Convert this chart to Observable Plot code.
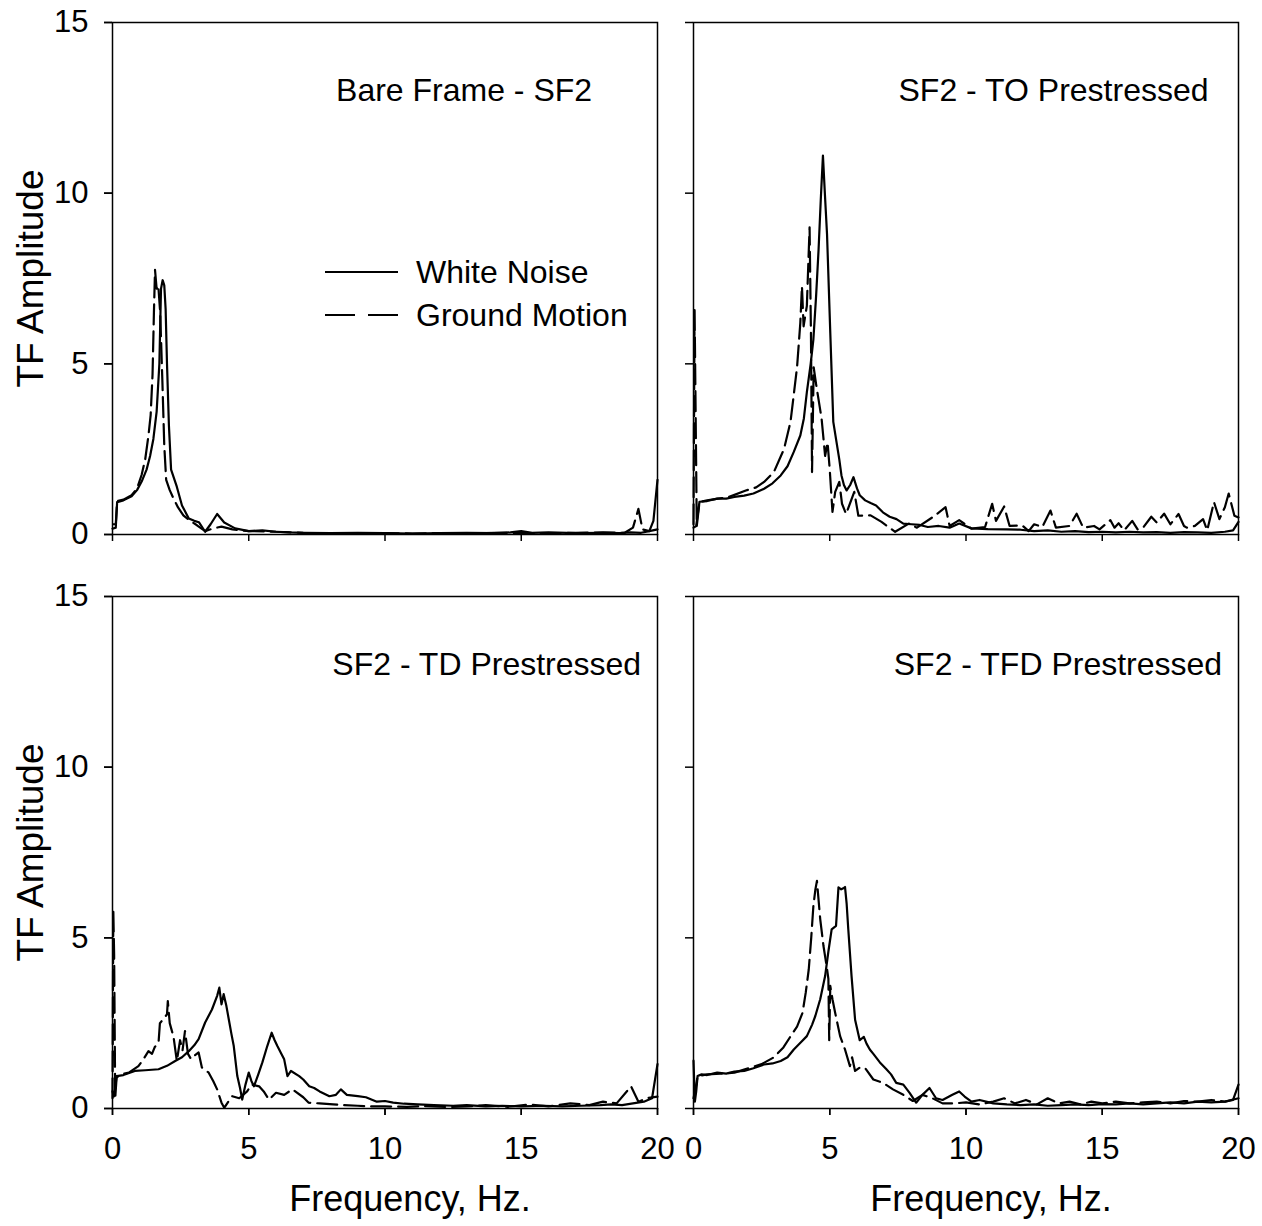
<!DOCTYPE html>
<html><head><meta charset="utf-8">
<script src="https://cdn.jsdelivr.net/npm/d3@7"></script>
<script src="https://cdn.jsdelivr.net/npm/@observablehq/plot@0.6"></script>
<style>
body{margin:0;background:#fff;}
#wrap{position:relative;width:1262px;height:1226px;font-family:"Liberation Sans",Arial,sans-serif;}
#legend{position:absolute;left:320px;top:250px;}
</style></head><body><div id="wrap"></div>
<script>
// ---------- data ----------
const panelNames = ["Bare Frame - SF2", "SF2 - TO Prestressed", "SF2 - TD Prestressed", "SF2 - TFD Prestressed"];
const seriesNames = ["White Noise", "Ground Motion"];
const xTicks = [0, 5, 10, 15, 20];
const yTicks = [0, 5, 10, 15];
const axisLabels = {x: "Frequency, Hz.", y: "TF Amplitude"};

// Bare Frame - SF2
const bareWN_f = [0, 0.12, 0.17, 0.4, 0.7, 0.9, 1.07, 1.25, 1.38, 1.5, 1.62, 1.72, 1.78, 1.84, 1.9, 1.95, 2.0, 2.07, 2.15, 2.36, 2.55, 2.8, 3.0, 3.17, 3.4, 3.6, 3.84, 4.1, 4.5, 5.0, 5.5, 6, 6.5, 7, 8, 9, 10, 11, 12, 13, 14, 14.6, 15, 15.4, 16, 17, 18, 18.6, 19, 19.4, 19.7, 19.85, 20];
const bareWN_a = [0.17, 0.2, 0.95, 1.0, 1.12, 1.3, 1.55, 1.9, 2.3, 2.8, 3.6, 5.0, 7.2, 7.45, 7.3, 6.6, 5.0, 3.2, 1.9, 1.4, 0.85, 0.47, 0.4, 0.36, 0.08, 0.3, 0.6, 0.35, 0.18, 0.1, 0.12, 0.08, 0.06, 0.05, 0.04, 0.05, 0.04, 0.03, 0.04, 0.05, 0.04, 0.06, 0.1, 0.05, 0.06, 0.04, 0.05, 0.04, 0.06, 0.05, 0.1, 0.4, 1.6];
const bareGM_f = [0.02, 0.12, 0.17, 0.4, 0.7, 0.9, 1.07, 1.2, 1.32, 1.4, 1.47, 1.52, 1.56, 1.62, 1.68, 1.75, 1.83, 1.9, 1.97, 2.1, 2.24, 2.4, 2.6, 2.85, 3.1, 3.4, 3.7, 4.0, 4.4, 5, 6, 7, 8, 9, 10, 11, 12, 13, 14, 15, 16, 17, 18, 18.8, 19.1, 19.3, 19.45, 19.7, 20];
const bareGM_a = [0.3, 0.3, 0.98, 1.02, 1.15, 1.35, 1.75, 2.2, 2.9, 3.5, 4.7, 6.5, 7.75, 7.2, 7.3, 6.5, 4.5, 2.6, 1.6, 1.3, 1.05, 0.8, 0.56, 0.4, 0.27, 0.1, 0.18, 0.23, 0.15, 0.1, 0.08, 0.05, 0.04, 0.04, 0.04, 0.03, 0.04, 0.03, 0.05, 0.04, 0.04, 0.05, 0.06, 0.05, 0.2, 0.75, 0.15, 0.1, 0.15];

// SF2 - TO Prestressed
const toWN_f = [0, 0.1, 0.22, 0.5, 0.87, 1.2, 1.5, 1.86, 2.2, 2.59, 2.9, 3.2, 3.45, 3.68, 3.92, 4.05, 4.16, 4.3, 4.4, 4.5, 4.59, 4.67, 4.75, 4.82, 4.9, 5.02, 5.13, 5.25, 5.35, 5.43, 5.52, 5.62, 5.75, 5.87, 6.0, 6.1, 6.3, 6.5, 6.7, 6.95, 7.2, 7.45, 7.7, 8.0, 8.3, 8.6, 9.0, 9.4, 9.75, 10.2, 10.8, 11.5, 12, 12.5, 13, 13.5, 14, 14.5, 15, 15.5, 16, 16.5, 17, 17.5, 18, 18.5, 19, 19.5, 19.8, 20];
const toWN_a = [0.2, 0.25, 0.96, 0.98, 1.05, 1.05, 1.1, 1.14, 1.2, 1.34, 1.5, 1.73, 2.0, 2.42, 2.9, 3.4, 4.17, 5.0, 5.72, 7.0, 8.35, 9.8, 11.1, 10.0, 8.8, 5.9, 3.3, 2.7, 2.2, 1.73, 1.45, 1.29, 1.45, 1.68, 1.35, 1.15, 1.0, 0.92, 0.85, 0.65, 0.52, 0.45, 0.32, 0.3, 0.28, 0.22, 0.25, 0.2, 0.32, 0.18, 0.16, 0.15, 0.14, 0.1, 0.12, 0.08, 0.1, 0.07, 0.08, 0.06, 0.08, 0.06, 0.07, 0.05, 0.07, 0.06, 0.05, 0.08, 0.12, 0.37];
const toGM_f = [0, 0.04, 0.12, 0.22, 0.5, 0.9, 1.3, 1.92, 2.3, 2.59, 2.95, 3.32, 3.56, 3.8, 3.92, 3.98, 4.04, 4.16, 4.26, 4.31, 4.35, 4.41, 4.5, 4.6, 4.7, 4.83, 4.92, 5.0, 5.1, 5.2, 5.35, 5.45, 5.6, 5.9, 6.05, 6.5, 6.9, 7.4, 7.9, 8.2, 8.8, 9.25, 9.4, 9.75, 10.2, 10.7, 10.96, 11.1, 11.4, 11.6, 12.06, 12.3, 12.5, 12.8, 13.1, 13.3, 13.8, 14.06, 14.3, 14.7, 14.9, 15.3, 15.45, 15.6, 15.8, 16.1, 16.3, 16.5, 16.8, 17.0, 17.27, 17.5, 17.8, 18.0, 18.1, 18.4, 18.7, 18.85, 19.1, 19.3, 19.5, 19.64, 19.85, 20];
const toGM_a = [0.3, 6.6, 0.25, 0.95, 1.0, 1.05, 1.1, 1.29, 1.38, 1.54, 1.83, 2.5, 3.3, 4.9, 6.2, 7.27, 6.1, 6.7, 9.0, 5.9, 1.83, 4.9, 4.4, 3.9, 3.4, 2.3, 2.7, 1.9, 0.66, 1.25, 1.54, 0.9, 0.6, 1.25, 0.55, 0.56, 0.37, 0.08, 0.32, 0.2, 0.52, 0.8, 0.25, 0.42, 0.17, 0.22, 0.9, 0.4, 0.82, 0.25, 0.27, 0.1, 0.3, 0.22, 0.7, 0.2, 0.25, 0.61, 0.2, 0.25, 0.15, 0.42, 0.2, 0.33, 0.12, 0.4, 0.15, 0.2, 0.52, 0.35, 0.61, 0.3, 0.6, 0.25, 0.2, 0.25, 0.45, 0.12, 0.95, 0.45, 0.8, 1.2, 0.55, 0.5];

// SF2 - TD Prestressed
const tdWN_f = [0, 0.05, 0.1, 0.15, 0.4, 0.82, 1.2, 1.69, 2.0, 2.3, 2.55, 2.8, 3.0, 3.16, 3.4, 3.65, 3.84, 3.92, 4.0, 4.08, 4.18, 4.27, 4.36, 4.45, 4.58, 4.68, 4.76, 4.88, 5.0, 5.1, 5.19, 5.35, 5.5, 5.68, 5.84, 5.95, 6.05, 6.2, 6.3, 6.42, 6.55, 6.85, 7.0, 7.22, 7.4, 7.6, 7.96, 8.2, 8.38, 8.6, 9.0, 9.3, 9.7, 10.0, 10.3, 10.7, 11.2, 11.8, 12.5, 13.0, 13.7, 14.3, 15.0, 15.8, 16.5, 17.2, 17.9, 18.3, 18.7, 19.1, 19.5, 19.8, 20];
const tdWN_a = [0.5, 0.35, 0.6, 0.95, 0.98, 1.1, 1.12, 1.15, 1.25, 1.39, 1.5, 1.68, 1.85, 2.03, 2.52, 2.9, 3.3, 3.54, 3.05, 3.35, 3.0, 2.6, 2.2, 1.83, 0.95, 0.6, 0.26, 0.7, 1.05, 0.8, 0.65, 1.0, 1.35, 1.83, 2.22, 2.0, 1.83, 1.6, 1.44, 0.95, 1.1, 0.95, 0.85, 0.65, 0.6, 0.5, 0.36, 0.4, 0.56, 0.4, 0.36, 0.33, 0.2, 0.22, 0.17, 0.14, 0.12, 0.1, 0.08, 0.1, 0.06, 0.08, 0.06, 0.08, 0.06, 0.08, 0.1, 0.12, 0.1, 0.15, 0.2, 0.3, 1.3];
const tdGM_f = [0, 0.03, 0.06, 0.1, 0.15, 0.3, 0.6, 0.95, 1.1, 1.32, 1.45, 1.55, 1.69, 1.74, 1.85, 2.0, 2.03, 2.1, 2.24, 2.36, 2.48, 2.57, 2.66, 2.77, 2.88, 3.0, 3.16, 3.28, 3.53, 3.7, 3.84, 4.0, 4.1, 4.25, 4.39, 4.65, 4.94, 5.1, 5.38, 5.55, 5.74, 6.0, 6.3, 6.6, 7.0, 7.2, 7.6, 8.1, 8.5, 9.0, 9.5, 10, 10.8, 11.5, 12.3, 13.0, 13.7, 14.5, 15.3, 16.0, 16.8, 17.5, 18.0, 18.5, 19.03, 19.3, 19.6, 20];
const tdGM_a = [0.3, 5.8, 4.5, 0.3, 0.9, 1.0, 1.05, 1.24, 1.4, 1.68, 1.6, 1.8, 1.93, 2.5, 2.6, 2.76, 3.15, 2.5, 2.1, 1.39, 2.0, 1.7, 2.27, 1.6, 1.45, 1.55, 1.64, 1.2, 1.05, 0.8, 0.56, 0.17, 0.02, 0.2, 0.36, 0.3, 0.5, 0.7, 0.65, 0.5, 0.26, 0.46, 0.4, 0.56, 0.33, 0.17, 0.15, 0.12, 0.1, 0.08, 0.06, 0.06, 0.05, 0.07, 0.04, 0.06, 0.1, 0.05, 0.12, 0.06, 0.15, 0.1, 0.2, 0.15, 0.65, 0.2, 0.3, 0.35];

// SF2 - TFD Prestressed
const tfdWN_f = [0, 0.05, 0.1, 0.15, 0.3, 0.5, 0.87, 1.2, 1.5, 1.86, 2.2, 2.59, 2.9, 3.2, 3.45, 3.68, 3.95, 4.16, 4.35, 4.47, 4.65, 4.83, 4.95, 5.07, 5.23, 5.32, 5.42, 5.5, 5.56, 5.62, 5.68, 5.8, 5.93, 6.1, 6.25, 6.35, 6.47, 6.6, 6.84, 7.08, 7.25, 7.44, 7.7, 7.93, 8.17, 8.4, 8.66, 8.9, 9.14, 9.5, 9.75, 9.95, 10.2, 10.5, 11, 11.5, 12, 12.5, 13, 13.5, 14, 14.5, 15, 15.5, 16, 16.5, 17, 17.5, 18, 18.5, 19, 19.5, 19.8, 20];
const tfdWN_a = [1.4, 0.2, 0.5, 0.95, 1.0, 0.98, 1.05, 1.02, 1.08, 1.1, 1.18, 1.29, 1.32, 1.39, 1.5, 1.73, 1.95, 2.12, 2.45, 2.71, 3.2, 3.88, 4.6, 5.25, 5.35, 6.48, 6.42, 6.45, 6.49, 6.0, 5.25, 3.88, 2.6, 2.0, 2.1, 1.9, 1.73, 1.6, 1.35, 1.15, 1.0, 0.75, 0.7, 0.46, 0.17, 0.4, 0.6, 0.3, 0.25, 0.4, 0.5, 0.35, 0.2, 0.25, 0.15, 0.12, 0.1, 0.12, 0.08, 0.1, 0.12, 0.1, 0.13, 0.12, 0.15, 0.12, 0.15, 0.18, 0.15, 0.2, 0.18, 0.2, 0.25, 0.7];
const tfdGM_f = [0, 0.08, 0.15, 0.5, 1.0, 1.5, 2.1, 2.5, 2.95, 3.3, 3.55, 3.8, 4.0, 4.12, 4.23, 4.32, 4.4, 4.47, 4.53, 4.58, 4.65, 4.77, 4.88, 4.95, 4.98, 5.02, 5.1, 5.2, 5.38, 5.56, 5.74, 5.82, 5.93, 6.1, 6.29, 6.6, 6.96, 7.32, 7.7, 8.05, 8.4, 8.77, 9.14, 9.6, 10, 10.5, 11, 11.4, 11.8, 12.2, 12.6, 13, 13.4, 13.8, 14.2, 14.6, 15, 15.5, 16, 16.5, 17, 17.5, 18, 18.5, 19, 19.5, 20];
const tfdGM_a = [0.3, 0.6, 0.95, 1.0, 1.02, 1.05, 1.2, 1.3, 1.5, 1.79, 2.1, 2.4, 2.8, 3.4, 4.08, 5.0, 5.94, 6.4, 6.67, 6.2, 5.55, 4.76, 4.2, 3.8, 2.0, 3.59, 3.2, 2.8, 2.12, 1.73, 1.24, 1.5, 1.1, 1.2, 1.19, 0.85, 0.75, 0.56, 0.4, 0.22, 0.4, 0.3, 0.15, 0.15, 0.18, 0.12, 0.2, 0.3, 0.15, 0.25, 0.12, 0.3, 0.15, 0.2, 0.12, 0.2, 0.15, 0.2, 0.15, 0.18, 0.2, 0.15, 0.22, 0.2, 0.25, 0.2, 0.3];

// ---------- layout (not data) ----------
const grid = [{col: "L", row: "T"}, {col: "R", row: "T"}, {col: "L", row: "B"}, {col: "R", row: "B"}];
const titleAnchor = [{x: 17.6, y: 13}, {x: 18.9, y: 13}, {x: 19.4, y: 13}, {x: 19.4, y: 13}];
const FONT = "Liberation Sans, Arial, Helvetica, sans-serif";

// ---------- build table ----------
const seriesArrays = [
  [[bareWN_f, bareWN_a], [bareGM_f, bareGM_a]],
  [[toWN_f, toWN_a], [toGM_f, toGM_a]],
  [[tdWN_f, tdWN_a], [tdGM_f, tdGM_a]],
  [[tfdWN_f, tfdWN_a], [tfdGM_f, tfdGM_a]]
];
const rows = [];
seriesArrays.forEach((pair, pi) => {
  pair.forEach(([fs, as], si) => {
    fs.forEach((f, i) => rows.push({panel: panelNames[pi], col: grid[pi].col, row: grid[pi].row, series: seriesNames[si], f, a: as[i]}));
  });
});
const titles = panelNames.map((t, i) => ({title: t, col: grid[i].col, row: grid[i].row, x: titleAnchor[i].x, y: titleAnchor[i].y}));
const leftPanels = grid.filter(g => g.col === "L");
const bottomPanels = grid.filter(g => g.row === "B");

const chart = Plot.plot({
  width: 1262, height: 1226,
  marginLeft: 111, marginRight: 24, marginTop: 22, marginBottom: 117,
  style: {fontFamily: FONT, fontSize: "31px", color: "black", background: "transparent"},
  fx: {domain: ["L", "R"], axis: null, paddingInner: 0.062, paddingOuter: 0},
  fy: {domain: ["T", "B"], axis: null, paddingInner: 0.1076, paddingOuter: 0},
  x: {domain: [0, 20]},
  y: {domain: [0, 15]},
  marks: [
    Plot.frame({stroke: "black", strokeWidth: 1.5}),
    Plot.axisX({ticks: xTicks, tickSize: 7, tickFormat: () => "", facetAnchor: null, label: null, strokeWidth: 1.5}),
    Plot.axisX({ticks: xTicks, tickSize: 7, tickPadding: 21, facetAnchor: "bottom", label: null, fontSize: 31, strokeWidth: 1.5}),
    Plot.axisY({ticks: yTicks, tickSize: 8, tickFormat: () => "", facetAnchor: null, label: null, strokeWidth: 1.5}),
    Plot.axisY({ticks: yTicks, tickSize: 8, tickPadding: 16, facetAnchor: "left", label: null, fontSize: 31, strokeWidth: 1.5}),
    Plot.line(rows, {filter: d => d.series === "White Noise", x: "f", y: "a", z: "panel", fx: "col", fy: "row", stroke: "black", strokeWidth: 2.2}),
    Plot.line(rows, {filter: d => d.series === "Ground Motion", x: "f", y: "a", z: "panel", fx: "col", fy: "row", stroke: "black", strokeWidth: 2.2, strokeDasharray: "20,7"}),
    Plot.text(titles, {x: "x", y: "y", fx: "col", fy: "row", text: "title", textAnchor: "end", fontSize: 32, fill: "black"}),
    Plot.text(leftPanels, {fx: "col", fy: "row", text: () => axisLabels.y, frameAnchor: "left", textAnchor: "middle", lineAnchor: "middle", rotate: -90, dx: -81, fontSize: 37, fill: "black"}),
    Plot.text(bottomPanels, {fx: "col", fy: "row", text: () => axisLabels.x, frameAnchor: "bottom", textAnchor: "middle", lineAnchor: "middle", dy: 91, dx: 25, fontSize: 36, fill: "black"})
  ]
});
const wrap = document.getElementById("wrap");
wrap.appendChild(chart);

// legend (inside the first panel)
const legend = document.createElement("div");
legend.id = "legend";
legend.innerHTML = `<svg width="340" height="90" style="overflow:visible">
  <line x1="5" x2="78" y1="22" y2="22" stroke="black" stroke-width="2"/>
  <line x1="5" x2="78" y1="65" y2="65" stroke="black" stroke-width="2" stroke-dasharray="30,13"/>
  <text x="96" y="22" dominant-baseline="central" font-family="${FONT}" font-size="32">${seriesNames[0]}</text>
  <text x="96" y="65" dominant-baseline="central" font-family="${FONT}" font-size="32">${seriesNames[1]}</text>
</svg>`;
wrap.appendChild(legend);
</script>
</body></html>
